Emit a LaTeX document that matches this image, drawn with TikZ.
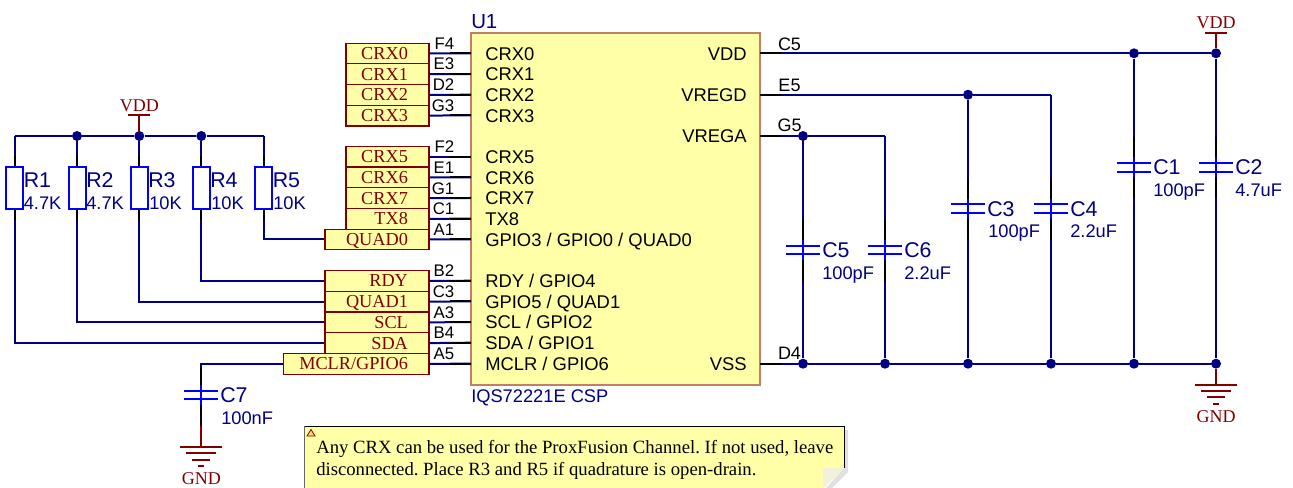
\documentclass[tikz,border=0pt]{standalone}
\usepackage{fontspec}
\setmainfont{Liberation Serif}
\setsansfont{Liberation Sans}
\usetikzlibrary{calc}
\usetikzlibrary{positioning}
\definecolor{wirecol}{HTML}{000080}
\definecolor{platecol}{HTML}{0000FF}
\definecolor{powercol}{HTML}{800000}
\definecolor{chipfill}{HTML}{FFFFA8}
\definecolor{chipedge}{HTML}{C08068}
\definecolor{foldcol}{HTML}{F2F2DC}

\tikzset{
  wire/.style={draw=wirecol, line width=1.5},
  pinline/.style={draw=black, line width=1.5},
  powerline/.style={draw=powercol, line width=1.5},
  plate/.style={draw=platecol, line width=1.5},
  dotnode/.style={circle, fill=wirecol, inner sep=0, minimum size=7.5pt},
  chipbox/.style={draw=chipedge, fill=chipfill, line width=1.5, inner sep=0},
  resbody/.style={draw=platecol, fill=white, line width=1.5, inner sep=0, minimum width=12.75pt, minimum height=31.5pt},
  harness/.style={draw=powercol, fill=chipfill, line width=0.9, inner sep=0, anchor=east,
    minimum height=15.5pt, text width=#1*0.75pt, align=flush right, text=powercol,
    text height=9pt, text depth=0pt, font=\rmfamily\fontsize{13.7}{13.7}\selectfont,
    execute at end node={\hspace*{15.75pt}}},
  pintext/.style={font=\sffamily\fontsize{12.6}{12.6}\selectfont, inner sep=0, text height=9pt, text depth=0pt},
  pintextr/.style={font=\sffamily\fontsize{13.5}{13.5}\selectfont, inner sep=0, text height=9.6pt, text depth=0pt},
  chiptext/.style={font=\sffamily\fontsize{13.8}{13.8}\selectfont, inner sep=0, text height=9.8pt, text depth=0pt, anchor=west},
  partname/.style={font=\sffamily\fontsize{16}{16}\selectfont, text=wirecol, inner sep=0, text height=11.5pt, text depth=0pt, anchor=west},
  partval/.style={font=\sffamily\fontsize{13.7}{13.7}\selectfont, text=wirecol, inner sep=0, text height=9.8pt, text depth=0pt, anchor=west},
  powertext/.style={font=\rmfamily\fontsize{13.5}{13.5}\selectfont, text=powercol, inner sep=0, text height=9pt, text depth=0pt},
  notetext/.style={font=\rmfamily\frenchspacing\fontsize{14.02}{16.2}\selectfont, text=black, inner sep=0, anchor=north west, align=left},
}

\begin{document}
\begin{tikzpicture}[x=0.75pt, y=-0.75pt]
\useasboundingbox (0,0) rectangle (1293,488);

% chip
\node[chipbox, minimum width=216.75pt, minimum height=264pt] (U1) at (615.5,209) {};
\node[partname, font=\sffamily\fontsize{15.3}{15.3}\selectfont] (U1name) at (471,21) {U1};
\node[partval] (U1type) at (471,396) {IQS72221E CSP};

% pin ends on the chip
\coordinate (pF4) at (471,53.3);
\coordinate (pE3) at (471,74);
\coordinate (pD2) at (471,94.7);
\coordinate (pG3) at (471,115.3);
\coordinate (pF2) at (471,156.7);
\coordinate (pE1) at (471,177.3);
\coordinate (pG1) at (471,198);
\coordinate (pC1) at (471,218.7);
\coordinate (pA1) at (471,239.3);
\coordinate (pB2) at (471,280.7);
\coordinate (pC3) at (471,301.3);
\coordinate (pA3) at (471,322);
\coordinate (pB4) at (471,342.7);
\coordinate (pA5) at (471,363.7);
\coordinate (pC5) at (760,53.3);
\coordinate (pE5) at (760,94.7);
\coordinate (pG5) at (760,136);
\coordinate (pD4) at (760,363.7);

% harness labels
\node[harness=83] (CRX0) at (429.5,53.5) {CRX0};
\node[harness=83] (CRX1) at (429.5,74.2) {CRX1};
\node[harness=83] (CRX2) at (429.5,94.9) {CRX2};
\node[harness=83] (CRX3) at (429.5,115.6) {CRX3};
\node[harness=83] (CRX5) at (429.5,156.7) {CRX5};
\node[harness=83] (CRX6) at (429.5,177.4) {CRX6};
\node[harness=83] (CRX7) at (429.5,198.1) {CRX7};
\node[harness=83] (TX8) at (429.5,218.8) {TX8};
\node[harness=104] (QUAD0) at (429.5,239.5) {QUAD0};
\node[harness=104] (RDY) at (429.5,281) {RDY};
\node[harness=104] (QUAD1) at (429.5,301.7) {QUAD1};
\node[harness=104] (SCL) at (429.5,322.4) {SCL};
\node[harness=104] (SDA) at (429.5,343.1) {SDA};
\node[harness=145.5] (MCLR) at (429.5,363.8) {MCLR/GPIO6};

% left pins
\draw[wire] (CRX0.east) -- (pF4);
\draw[wire] (CRX1.east) -- (pE3);
\draw[wire] (CRX2.east) -- (pD2);
\draw[wire] (CRX3.east) -- (pG3);
\draw[wire] (CRX5.east) -- (pF2);
\draw[wire] (CRX6.east) -- (pE1);
\draw[wire] (CRX7.east) -- (pG1);
\draw[wire] (TX8.east) -- (pC1);
\draw[wire] (QUAD0.east) -- (pA1);
\draw[wire] (RDY.east) -- (pB2);
\draw[wire] (QUAD1.east) -- (pC3);
\draw[wire] (SCL.east) -- (pA3);
\draw[wire] (SDA.east) -- (pB4);
\draw[wire] (MCLR.east) -- (pA5);
\draw[pinline] ($(pF4)+(-21,0)$) -- (pF4);
\draw[pinline] ($(pE3)+(-21,0)$) -- (pE3);
\draw[pinline] ($(pD2)+(-21,0)$) -- (pD2);
\draw[pinline] ($(pG3)+(-21,0)$) -- (pG3);
\draw[pinline] ($(pF2)+(-21,0)$) -- (pF2);
\draw[pinline] ($(pE1)+(-21,0)$) -- (pE1);
\draw[pinline] ($(pG1)+(-21,0)$) -- (pG1);
\draw[pinline] ($(pC1)+(-21,0)$) -- (pC1);
\draw[pinline] ($(pA1)+(-21,0)$) -- (pA1);
\draw[pinline] ($(pB2)+(-21,0)$) -- (pB2);
\draw[pinline] ($(pC3)+(-21,0)$) -- (pC3);
\draw[pinline] ($(pA3)+(-21,0)$) -- (pA3);
\draw[pinline] ($(pB4)+(-21,0)$) -- (pB4);
\draw[pinline] ($(pA5)+(-21,0)$) -- (pA5);

\node[pintext, anchor=east] (tF4) at (454.5,43.5) {F4};
\node[pintext, anchor=east] (tE3) at (454.5,64) {E3};
\node[pintext, anchor=east] (tD2) at (454.5,84.5) {D2};
\node[pintext, anchor=east] (tG3) at (454.5,105.5) {G3};
\node[pintext, anchor=east] (tF2) at (454.5,147) {F2};
\node[pintext, anchor=east] (tE1) at (454.5,168) {E1};
\node[pintext, anchor=east] (tG1) at (454.5,188.5) {G1};
\node[pintext, anchor=east] (tC1) at (454.5,209) {C1};
\node[pintext, anchor=east] (tA1) at (454.5,230) {A1};
\node[pintext, anchor=east] (tB2) at (454.5,271) {B2};
\node[pintext, anchor=east] (tC3) at (454.5,291.5) {C3};
\node[pintext, anchor=east] (tA3) at (454.5,312.5) {A3};
\node[pintext, anchor=east] (tB4) at (454.5,333) {B4};
\node[pintext, anchor=east] (tA5) at (454.5,354) {A5};

% chip pin names
\node[chiptext] (nCRX0) at (485,53.7) {CRX0};
\node[chiptext] (nCRX1) at (485,74.4) {CRX1};
\node[chiptext] (nCRX2) at (485,95) {CRX2};
\node[chiptext] (nCRX3) at (485,115.7) {CRX3};
\node[chiptext] (nCRX5) at (485,157) {CRX5};
\node[chiptext] (nCRX6) at (485,177.7) {CRX6};
\node[chiptext] (nCRX7) at (485,198.4) {CRX7};
\node[chiptext] (nTX8) at (485,219) {TX8};
\node[chiptext] (nGPIO3) at (485,239.7) {GPIO3 / GPIO0 / QUAD0};
\node[chiptext] (nRDY) at (485,281) {RDY / GPIO4};
\node[chiptext] (nGPIO5) at (485,301.7) {GPIO5 / QUAD1};
\node[chiptext] (nSCL) at (485,322.4) {SCL / GPIO2};
\node[chiptext] (nSDA) at (485,343) {SDA / GPIO1};
\node[chiptext] (nMCLR) at (485,363.7) {MCLR / GPIO6};
\node[chiptext, anchor=east] (nVDD) at (747,53.7) {VDD};
\node[chiptext, anchor=east] (nVREGD) at (747,95) {VREGD};
\node[chiptext, anchor=east] (nVREGA) at (747,136.3) {VREGA};
\node[chiptext, anchor=east] (nVSS) at (747,363.7) {VSS};

% resistors
\coordinate (railA) at (14.5,136);
\coordinate (railE) at (263.5,136);
\node[dotnode] (d2) at (77,136) {};
\node[dotnode] (d3) at (139.3,136) {};
\node[dotnode] (d4) at (201.3,136) {};
\draw[wire] (railA) -- (d2) -- (d3) -- (d4) -- (railE);

\node[resbody] (R1) at (14.5,188) {};
\node[resbody] (R2) at (77,188) {};
\node[resbody] (R3) at (139.3,188) {};
\node[resbody] (R4) at (201.3,188) {};
\node[resbody] (R5) at (263.5,188) {};
\draw[wire] (railA) -- (R1.north);
\draw[wire] (d2) -- (R2.north);
\draw[wire] (d3) -- (R3.north);
\draw[wire] (d4) -- (R4.north);
\draw[wire] (railE) -- (R5.north);
\draw[wire] (R1.south) |- (SDA.west);
\draw[wire] (R2.south) |- (SCL.west);
\draw[wire] (R3.south) |- (QUAD1.west);
\draw[wire] (R4.south) |- (RDY.west);
\draw[wire] (R5.south) |- (QUAD0.west);
\draw[pinline] ($(R1.north)+(0,-10)$) -- (R1.north) (R1.south) -- ($(R1.south)+(0,10)$);
\draw[pinline] ($(R2.north)+(0,-10)$) -- (R2.north) (R2.south) -- ($(R2.south)+(0,10)$);
\draw[pinline] ($(R3.north)+(0,-10)$) -- (R3.north) (R3.south) -- ($(R3.south)+(0,10)$);
\draw[pinline] ($(R4.north)+(0,-10)$) -- (R4.north) (R4.south) -- ($(R4.south)+(0,10)$);
\draw[pinline] ($(R5.north)+(0,-10)$) -- (R5.north) (R5.south) -- ($(R5.south)+(0,10)$);

\node[partname] (tR1) at (23.5,179.5) {R1};
\node[partname] (tR2) at (86,179.5) {R2};
\node[partname] (tR3) at (148,179.5) {R3};
\node[partname] (tR4) at (210,179.5) {R4};
\node[partname] (tR5) at (272.5,179.5) {R5};
\node[partval] (vR1) at (23.5,202.5) {4.7K};
\node[partval] (vR2) at (86,202.5) {4.7K};
\node[partval] (vR3) at (149,202.5) {10K};
\node[partval] (vR4) at (211,202.5) {10K};
\node[partval] (vR5) at (273,202.5) {10K};

% power left
\coordinate (vddL) at (139.3,115.5);
\draw[powerline] (d3) -- (vddL);
\draw[powerline,shift={(vddL)}] (-11,0) -- (11,0);
\node[powertext] (tvddL) at (139.3,106) {VDD};

% C7 and its ground
\coordinate (cC7) at (201.3,395);
\coordinate (gndL) at (201.3,447);
\draw[wire] (MCLR.west) -| (cC7);
\draw[pinline,shift={(cC7)}] (0,-27) -- (0,-8) (0,8) -- (0,31);
\draw[plate,shift={(cC7)}] (-17,-4.3) -- (17,-4.3) (-17,4.3) -- (17,4.3) (0,-10) -- (0,10);
\draw[powerline] ($(gndL)+(0,-21)$) -- (gndL);
\draw[powerline,shift={(gndL)}] (-21,0) -- (21,0) (-15,6) -- (15,6) (-9,12.5) -- (9,12.5) (-3,19) -- (3,19);
\node[powertext] (tgndL) at (201.3,478) {GND};
\node[partname] (tC7) at (220,395) {C7};
\node[partval] (vC7) at (221,417.5) {100nF};

% right rails
\node[dotnode] (dG5) at (803,136) {};
\coordinate (endG5) at (885,136);
\node[dotnode] (dE5) at (968,94.7) {};
\coordinate (endE5) at (1051,94.7);
\node[dotnode] (dC5a) at (1134,53.3) {};
\node[dotnode] (dC5b) at (1216,53.3) {};
\node[dotnode] (dD1) at (803,363.7) {};
\node[dotnode] (dD2) at (885,363.7) {};
\node[dotnode] (dD3) at (968,363.7) {};
\node[dotnode] (dD4) at (1051,363.7) {};
\node[dotnode] (dD5) at (1134,363.7) {};
\node[dotnode] (dD6) at (1216,363.7) {};
\draw[wire] (pC5) -- (dC5a) -- (dC5b);
\draw[wire] (pE5) -- (dE5) -- (endE5);
\draw[wire] (pG5) -- (dG5) -- (endG5);
\draw[wire] (pD4) -- (dD1) -- (dD2) -- (dD3) -- (dD4) -- (dD5) -- (dD6);
\draw[wire] (dG5) -- (dD1);
\draw[wire] (endG5) -- (dD2);
\draw[wire] (dE5) -- (dD3);
\draw[wire] (endE5) -- (dD4);
\draw[wire] (dC5a) -- (dD5);
\draw[wire] (dC5b) -- (dD6);
\draw[pinline] (pC5) -- ($(pC5)+(21,0)$);
\draw[pinline] (pE5) -- ($(pE5)+(21,0)$);
\draw[pinline] (pG5) -- ($(pG5)+(21,0)$);
\draw[pinline] (pD4) -- ($(pD4)+(21,0)$);
\node[pintextr] (tC5) at (789.5,44) {C5};
\node[pintextr] (tE5) at (789.5,85) {E5};
\node[pintextr] (tG5) at (789.5,125.5) {G5};
\node[pintextr] (tD4) at (789.5,353) {D4};

% capacitors
\coordinate (cC5) at (803,250);
\coordinate (cC6) at (885,250);
\coordinate (cC3) at (968,208.7);
\coordinate (cC4) at (1051,208.7);
\coordinate (cC1) at (1134,167.3);
\coordinate (cC2) at (1216,167.3);
\draw[pinline,shift={(cC5)}] (0,-30) -- (0,-8) (0,8) -- (0,31);
\draw[plate,shift={(cC5)}] (-17,-4.3) -- (17,-4.3) (-17,4.3) -- (17,4.3) (0,-10) -- (0,10);
\draw[pinline,shift={(cC6)}] (0,-30) -- (0,-8) (0,8) -- (0,31);
\draw[plate,shift={(cC6)}] (-17,-4.3) -- (17,-4.3) (-17,4.3) -- (17,4.3) (0,-10) -- (0,10);
\draw[pinline,shift={(cC3)}] (0,-30) -- (0,-8) (0,8) -- (0,31);
\draw[plate,shift={(cC3)}] (-17,-4.3) -- (17,-4.3) (-17,4.3) -- (17,4.3) (0,-10) -- (0,10);
\draw[pinline,shift={(cC4)}] (0,-30) -- (0,-8) (0,8) -- (0,31);
\draw[plate,shift={(cC4)}] (-17,-4.3) -- (17,-4.3) (-17,4.3) -- (17,4.3) (0,-10) -- (0,10);
\draw[pinline,shift={(cC1)}] (0,-30) -- (0,-8) (0,8) -- (0,31);
\draw[plate,shift={(cC1)}] (-17,-4.3) -- (17,-4.3) (-17,4.3) -- (17,4.3) (0,-10) -- (0,10);
\draw[pinline,shift={(cC2)}] (0,-30) -- (0,-8) (0,8) -- (0,31);
\draw[plate,shift={(cC2)}] (-17,-4.3) -- (17,-4.3) (-17,4.3) -- (17,4.3) (0,-10) -- (0,10);
\node[partname] (tC5b) at (822,250) {C5};
\node[partname] (tC6) at (904,250) {C6};
\node[partname] (tC3) at (987,208.5) {C3};
\node[partname] (tC4) at (1070,208.5) {C4};
\node[partname] (tC1) at (1153,167) {C1};
\node[partname] (tC2) at (1235,167) {C2};
\node[partval] (vC5) at (822,272.5) {100pF};
\node[partval] (vC6) at (904,272.5) {2.2uF};
\node[partval] (vC3) at (988,231) {100pF};
\node[partval] (vC4) at (1070,231) {2.2uF};
\node[partval] (vC1) at (1153,190) {100pF};
\node[partval] (vC2) at (1235,190) {4.7uF};

% power right
\coordinate (vddR) at (1216,33);
\coordinate (gndR) at (1216,385);
\draw[powerline] (dC5b) -- (vddR);
\draw[powerline,shift={(vddR)}] (-11,0) -- (11,0);
\node[powertext] (tvddR) at (1216,23) {VDD};
\draw[powerline] (dD6) -- (gndR);
\draw[powerline,shift={(gndR)}] (-21,0) -- (21,0) (-15,6) -- (15,6) (-9,12.5) -- (9,12.5) (-3,19) -- (3,19);
\node[powertext] (tgndR) at (1216,416) {GND};

% note
\fill[black!12] (848,430) -- (848,472) -- (832,488) -- (826,488) -- (844,468) -- (844,430) -- cycle;
\fill[chipfill] (304.5,426) -- (844,426) -- (844,468) -- (824,488) -- (304.5,488) -- cycle;
\fill[foldcol] (823,468) -- (844,468) -- (823,488) -- cycle;
\draw[black!60, line width=0.75] (304.5,488) -- (304.5,426);
\draw[black, line width=0.75] (304.5,426) -- (844,426) -- (844,468);
\draw[powercol, fill=chipfill!70!orange, line width=0.6] (311,429.5) -- (315,436) -- (307,436) -- cycle;
\node[notetext] (notebody) at (316,440.5) {Any CRX can be used for the ProxFusion Channel. If not used, leave\\disconnected. Place R3 and R5 if quadrature is open-drain.};

\end{tikzpicture}
\end{document}
